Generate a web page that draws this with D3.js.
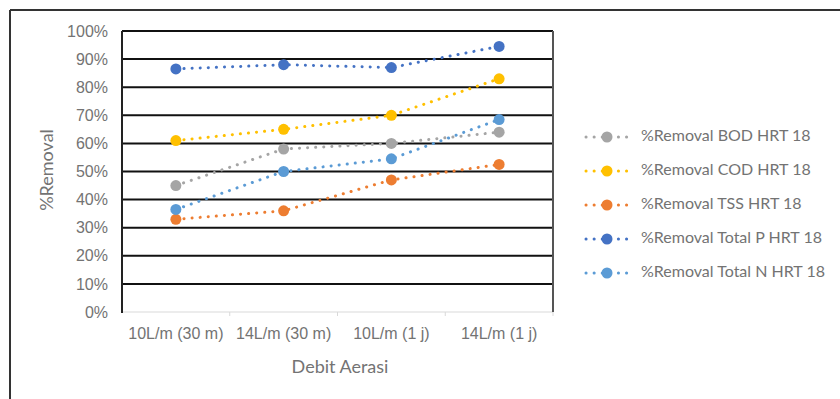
<!DOCTYPE html>
<html>
<head>
<meta charset="utf-8">
<script src="https://cdn.jsdelivr.net/npm/d3@7"></script>
<style>
  html, body { margin: 0; padding: 0; background: #fff; }
  svg { display: block; font-family: Lato, "Open Sans", sans-serif; }
</style>
</head>
<body>
<svg id="chart" width="840" height="399"></svg>
<script>
// Aeration flow settings on the x axis
const categories = ["10L/m (30 m)", "14L/m (30 m)", "10L/m (1 j)", "14L/m (1 j)"];

// Removal efficiency (%) per series
const bod    = [45, 58, 60, 64];
const cod    = [61, 65, 70, 83];
const tss    = [33, 36, 47, 52.5];
const totalP = [86.5, 88, 87, 94.5];
const totalN = [36.5, 50, 54.5, 68.5];

const seriesNames = [
  "%Removal BOD HRT 18",
  "%Removal COD HRT 18",
  "%Removal TSS HRT 18",
  "%Removal Total P HRT 18",
  "%Removal Total N HRT 18"
];
const seriesValues = [bod, cod, tss, totalP, totalN];
const seriesColors = ["#A5A5A5", "#FFC000", "#ED7D31", "#4472C4", "#5B9BD5"];

const yTicks = [0, 10, 20, 30, 40, 50, 60, 70, 80, 90, 100];

const svg = d3.select("#chart");
const textColor = "#737373";

// outer chart frame (top and left edges)
svg.append("line").attr("x1", 10).attr("x2", 840).attr("y1", 10).attr("y2", 10)
  .attr("stroke", "#333").attr("stroke-width", 2);
svg.append("line").attr("x1", 10).attr("x2", 10).attr("y1", 10).attr("y2", 399)
  .attr("stroke", "#333").attr("stroke-width", 2);

const plot = { left: 122, right: 553, top: 31, bottom: 312 };

const x = d3.scaleBand().domain(categories).range([plot.left, plot.right]);
const y = d3.scaleLinear().domain([0, 100]).range([plot.bottom, plot.top]);

// horizontal gridlines
const grid = svg.append("g");
grid.selectAll("line").data(yTicks.filter(t => t > 0)).join("line")
  .attr("x1", plot.left).attr("x2", plot.right)
  .attr("y1", d => y(d)).attr("y2", d => y(d))
  .attr("stroke", "#111").attr("stroke-width", 2);
// baseline at 0% with small category separators
svg.append("line").attr("x1", plot.left).attr("x2", plot.right)
  .attr("y1", y(0)).attr("y2", y(0)).attr("stroke", "#d9d9d9").attr("stroke-width", 1);
svg.append("g").selectAll("line").data(categories.slice(1).concat([null])).join("line")
  .attr("x1", (d, i) => plot.left + x.bandwidth() * (i + 1))
  .attr("x2", (d, i) => plot.left + x.bandwidth() * (i + 1))
  .attr("y1", y(0)).attr("y2", y(0) + 4)
  .attr("stroke", "#d9d9d9").attr("stroke-width", 1);
// left and right plot edges
svg.append("line").attr("x1", plot.left).attr("x2", plot.left)
  .attr("y1", plot.top).attr("y2", plot.bottom + 1).attr("stroke", "#222").attr("stroke-width", 2);
svg.append("line").attr("x1", plot.right).attr("x2", plot.right)
  .attr("y1", plot.top).attr("y2", plot.bottom).attr("stroke", "#555").attr("stroke-width", 2);

// y axis labels
const yAxis = d3.axisLeft(y).tickValues(yTicks).tickFormat(d => d + "%").tickSize(0).tickPadding(14);
const gy = svg.append("g").attr("transform", `translate(${plot.left},0)`).call(yAxis);
gy.select(".domain").remove();
gy.selectAll("text").attr("fill", textColor).style("font-size", "16px");

// x axis labels
const xAxis = d3.axisBottom(x).tickSize(0).tickPadding(16);
const gx = svg.append("g").attr("transform", `translate(0,${plot.bottom})`).call(xAxis);
gx.select(".domain").remove();
gx.selectAll("text").attr("fill", textColor).style("font-size", "16px");

// axis titles
svg.append("text").attr("x", 340).attr("y", 373)
  .attr("text-anchor", "middle").attr("fill", textColor).style("font-size", "18px")
  .text("Debit Aerasi");
svg.append("text").attr("transform", `translate(48,170) rotate(-90)`)
  .attr("text-anchor", "middle").attr("dominant-baseline", "middle")
  .attr("fill", textColor).style("font-size", "18px").text("%Removal");

// series lines and markers
const cx = d => x(d) + x.bandwidth() / 2;
const line = d3.line().x((v, i) => cx(categories[i])).y(v => y(v));

seriesValues.forEach((vals, s) => {
  const g = svg.append("g");
  g.append("path").datum(vals).attr("d", line)
    .attr("fill", "none").attr("stroke", seriesColors[s]).attr("stroke-width", 3)
    .attr("stroke-linecap", "round").attr("stroke-dasharray", "0.1 8");
  g.selectAll("circle").data(vals).join("circle")
    .attr("cx", (v, i) => cx(categories[i])).attr("cy", v => y(v)).attr("r", 5.5)
    .attr("fill", seriesColors[s]);
});

// legend
const legend = svg.append("g");
seriesNames.forEach((name, s) => {
  const ly = 137 + s * 34;
  const g = legend.append("g");
  g.append("line").attr("x1", 586).attr("x2", 632).attr("y1", ly).attr("y2", ly)
    .attr("stroke", seriesColors[s]).attr("stroke-width", 3)
    .attr("stroke-linecap", "round").attr("stroke-dasharray", "0.1 8");
  g.append("circle").attr("cx", 607).attr("cy", ly).attr("r", 5.5).attr("fill", seriesColors[s]);
  g.append("text").attr("x", 641).attr("y", ly).attr("dominant-baseline", "middle")
    .attr("fill", textColor).style("font-size", "16px").text(name);
});
</script>
</body>
</html>
